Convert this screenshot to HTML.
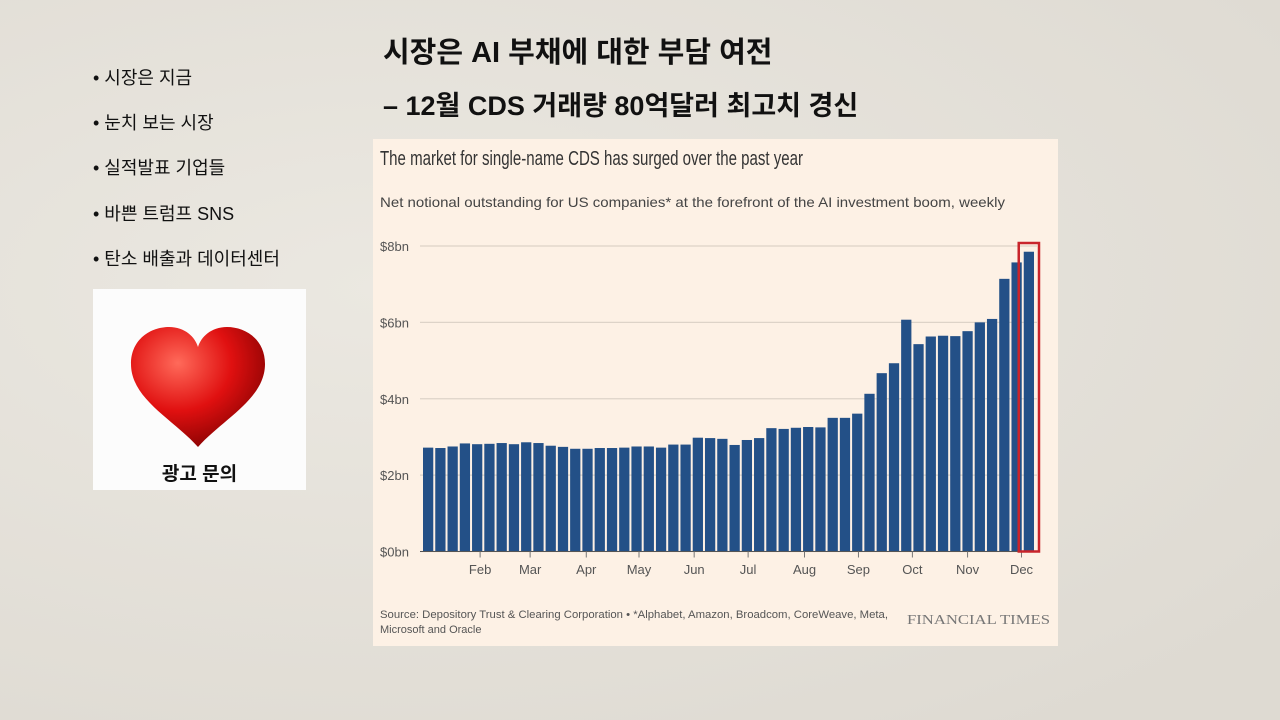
<!DOCTYPE html>
<html><head><meta charset="utf-8"><style>
body{margin:0;width:1280px;height:720px;overflow:hidden;background:#e6e2da;font-family:"Liberation Sans","Noto Sans CJK KR",sans-serif;position:relative}
.bg{position:absolute;inset:0;background:radial-gradient(ellipse at 30% 40%,#ebe8e1,#dedad2 90%)}
.h{position:absolute;font-weight:bold;color:#111;font-size:29px;white-space:nowrap;font-family:"Liberation Sans","Noto Sans CJK KR",sans-serif}
.bl{position:absolute;left:93px;font-size:18px;color:#111;white-space:nowrap;font-family:"Liberation Sans","Noto Sans CJK KR",sans-serif}
</style></head><body>
<div class="bg"></div>
<div class="h" style="left:383px;top:29px">시장은 AI 부채에 대한 부담 여전</div>
<div class="h" style="left:383px;top:84px;font-size:27px">– 12월 CDS 거래량 80억달러 최고치 경신</div>
<div class="bl" style="top:64px">• 시장은 지금</div>
<div class="bl" style="top:109px">• 눈치 보는 시장</div>
<div class="bl" style="top:154px">• 실적발표 기업들</div>
<div class="bl" style="top:200px">• 바쁜 트럼프 SNS</div>
<div class="bl" style="top:245px">• 탄소 배출과 데이터센터</div>
<div style="position:absolute;left:93px;top:289px;width:213px;height:201px;background:#fcfcfc">
<svg width="213" height="201"><defs><radialGradient id="hg" cx="0.35" cy="0.3" r="0.8"><stop offset="0" stop-color="#ff6a5a"/><stop offset="0.5" stop-color="#e01010"/><stop offset="1" stop-color="#7a0000"/></radialGradient></defs>
<path d="M105,158 C80,130 38,110 38,75 C38,50 58,38 76,38 C92,38 102,48 105,58 C108,48 118,38 134,38 C152,38 172,50 172,75 C172,110 130,130 105,158Z" fill="url(#hg)"/></svg>
<div style="position:absolute;left:0;width:213px;top:170px;text-align:center;font-weight:bold;font-size:19px;color:#111">광고 문의</div></div>
<svg style="position:absolute;left:0;top:0" width="1280" height="720">
<rect x="373" y="139" width="685" height="507" fill="#fdf1e5"/>
<text x="380" y="165" font-size="20" fill="#333" textLength="423" lengthAdjust="spacingAndGlyphs">The market for single-name CDS has surged over the past year</text>
<text x="380" y="207" font-size="14" fill="#444" textLength="625" lengthAdjust="spacingAndGlyphs">Net notional outstanding for US companies* at the forefront of the AI investment boom, weekly</text>
<g id="grid"></g><g id="bars"></g><g id="xax"></g>
<text x="380" y="618" font-size="11" fill="#555" textLength="508" lengthAdjust="spacingAndGlyphs">Source: Depository Trust &amp; Clearing Corporation • *Alphabet, Amazon, Broadcom, CoreWeave, Meta,</text>
<text x="380" y="633" font-size="11" fill="#555">Microsoft and Oracle</text>
<text x="907" y="624" font-size="13.5" fill="#777" font-family="Liberation Serif,serif" textLength="143" lengthAdjust="spacingAndGlyphs">FINANCIAL TIMES</text>
</svg>
<script>
const values=[2.72,2.71,2.75,2.83,2.81,2.82,2.84,2.81,2.86,2.84,2.77,2.74,2.69,2.69,2.71,2.71,2.72,2.75,2.75,2.72,2.80,2.80,2.98,2.97,2.95,2.79,2.92,2.97,3.23,3.21,3.24,3.26,3.25,3.50,3.50,3.61,4.13,4.67,4.93,6.07,5.43,5.63,5.65,5.64,5.77,6.00,6.09,7.14,7.57,7.85];
const yTicks=[0,2,4,6,8];
const yLabels=["$0bn","$2bn","$4bn","$6bn","$8bn"];
const months=["Feb","Mar","Apr","May","Jun","Jul","Aug","Sep","Oct","Nov","Dec"];
const monthWeek=[4.74,8.82,13.4,17.7,22.2,26.6,31.2,35.6,40.0,44.5,48.9];
const highlightWeeks=[49];
const NS="http://www.w3.org/2000/svg";
const x0=422,x1=1035,y0=551.5,y8=246;
const bw=(x1-x0)/values.length;
const X=i=>x0+i*bw, Y=v=>y0-(y0-y8)*v/8;
function mk(t,a,p){const e=document.createElementNS(NS,t);for(const k in a)e.setAttribute(k,a[k]);p.appendChild(e);return e;}
const g=document.getElementById('grid'),b=document.getElementById('bars'),xa=document.getElementById('xax');
yTicks.forEach((v,i)=>{
 const l=mk('line',{x1:420,x2:1037,y1:Y(v),y2:Y(v),stroke:'#ddd3c8','stroke-width':1.2},g);
 
 
 const t=mk('text',{x:380,y:Y(v)+5,'font-size':13,fill:'#555'},g);t.textContent=yLabels[i];
 
 
});
values.forEach((v,i)=>{
 const r=mk('rect',{x:X(i)+1,y:Y(v),width:bw-2,height:y0-Y(v),fill:'#235087'},b);
 
 
});
mk('line',{x1:420,x2:1037,y1:y0,y2:y0,stroke:'#555','stroke-width':1},xa);
months.forEach((m,i)=>{
 const x=X(monthWeek[i]);
 mk('line',{x1:x,x2:x,y1:y0,y2:y0+6,stroke:'#777','stroke-width':1},xa);
 const t=mk('text',{x:x,y:574,'font-size':13,fill:'#555','text-anchor':'middle'},xa);t.textContent=m;
 
 
});
highlightWeeks.forEach(i=>{
 const r=mk('rect',{x:X(i)-4,y:Y(8)-3,width:bw+8,height:y0-Y(8)+3,fill:'none',stroke:'#c8242b','stroke-width':2.5},xa);
 
 
});
</script>
</body></html>
